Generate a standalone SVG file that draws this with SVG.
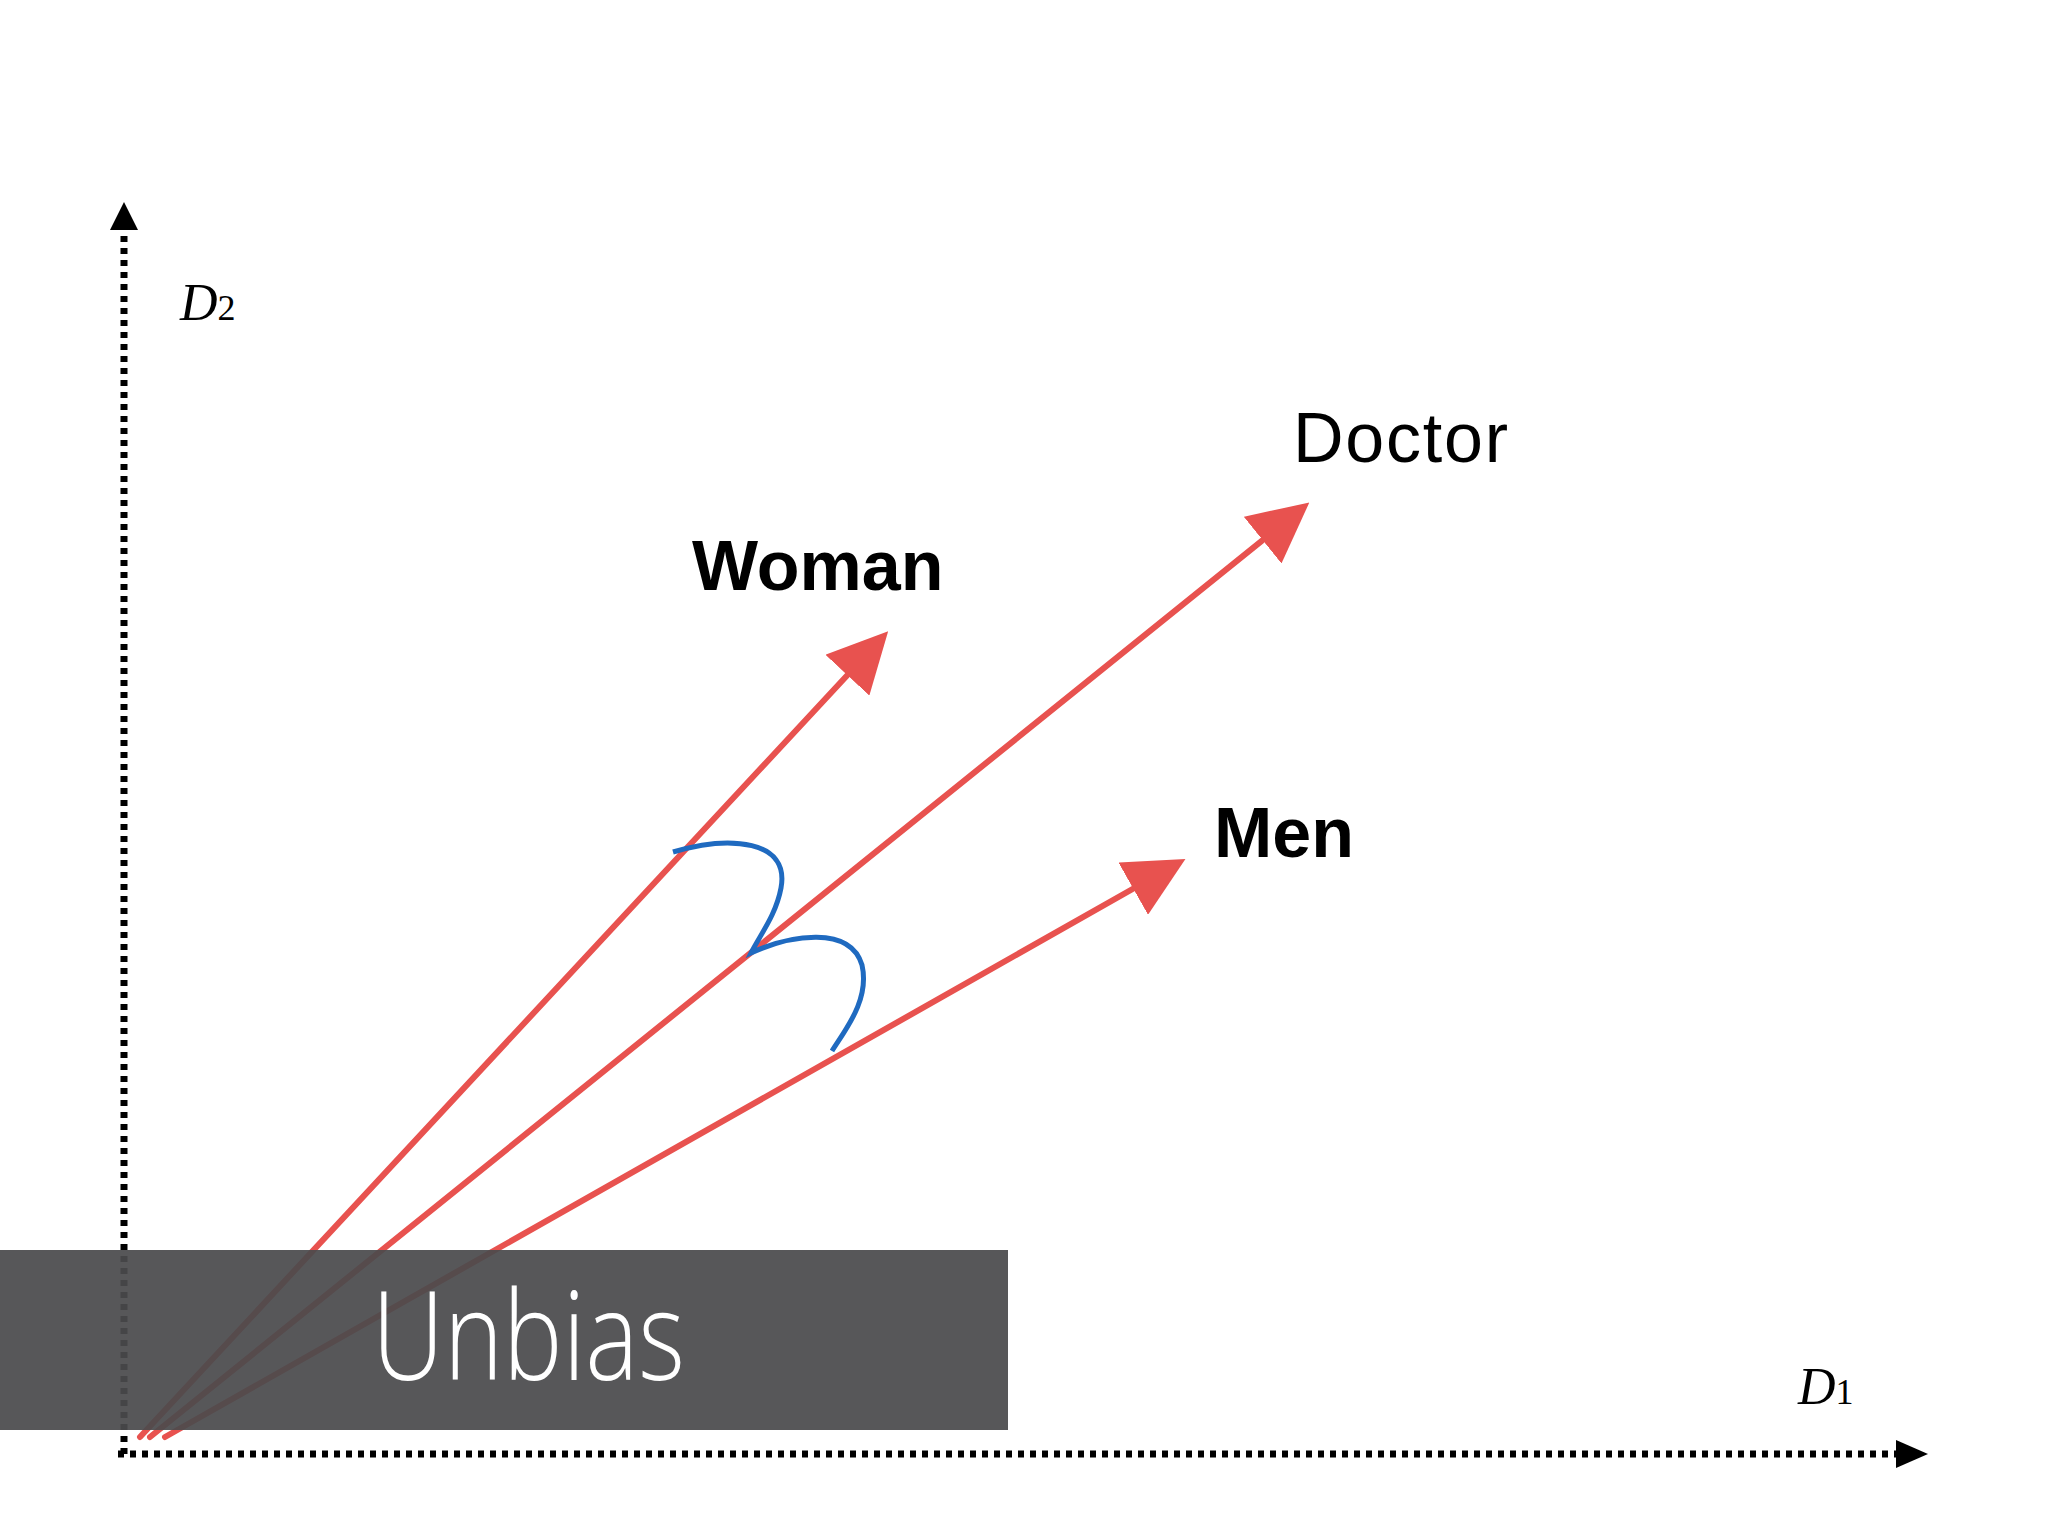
<svg xmlns="http://www.w3.org/2000/svg" width="2048" height="1536" viewBox="0 0 2048 1536">
<defs>
<style>
.ax{stroke:#000;stroke-width:7;stroke-dasharray:6 6;fill:none}
.vec{stroke:#e8524f;stroke-width:6;fill:none;stroke-linecap:round}
.lbl{font-family:"Liberation Sans",Arial,sans-serif;fill:#000}
.dl{font-family:"Liberation Serif","DejaVu Serif",serif;fill:#000;font-style:italic}
</style>
<marker id="rh" viewBox="0 0 10 10" refX="8" refY="5" markerWidth="10" markerHeight="10" orient="auto"><path d="M0,0L10,5L0,10z" fill="#e8524f"/></marker>
</defs>
<rect width="2048" height="1536" fill="#fff"/>
<g id="connectors">
<line class="ax" x1="124" y1="1454" x2="124" y2="225"/>
<path d="M110,230L124,202L138,230z" fill="#000"/>
<line class="ax" x1="118" y1="1454" x2="1900" y2="1454"/>
<path d="M1896,1440L1928,1454L1896,1468z" fill="#000"/>
<line class="vec" x1="140" y1="1437" x2="880" y2="640" marker-end="url(#rh)"/>
<line class="vec" x1="150" y1="1437" x2="1300" y2="510" marker-end="url(#rh)"/>
<line class="vec" x1="165" y1="1437" x2="1175" y2="865" marker-end="url(#rh)"/>
<path d="M673,852C730,835 790,840 781,888C776,915 760,935 751,953C790,935 850,925 862,965C870,1000 845,1030 832,1051" stroke="#1f6ac0" stroke-width="5" fill="none"/>
</g>
<g id="d2"><text class="dl" x="180" y="320" font-size="52">D<tspan font-size="36" font-style="normal">2</tspan></text></g>
<g id="d1"><text class="dl" x="1798" y="1404" font-size="52">D<tspan font-size="36" font-style="normal">1</tspan></text></g>
<g id="woman"><text class="lbl" x="692" y="590" font-size="70" font-weight="bold">Woman</text></g>
<g id="doctor"><text class="lbl" x="1293" y="462" font-size="70" font-family="Open Sans,Liberation Sans,sans-serif" font-weight="300" textLength="215">Doctor</text></g>
<g id="men"><text class="lbl" x="1214" y="857" font-size="70" font-weight="bold">Men</text></g>
<g id="unbias">
<rect x="0" y="1250" width="1008" height="180" fill="#4a4a4c" fill-opacity="0.93"/>
<text x="372" y="1380" font-size="124" fill="#fff" font-family="Open Sans,Liberation Sans,sans-serif" font-weight="300" textLength="313" lengthAdjust="spacingAndGlyphs">Unbias</text>
</g>
</svg>
